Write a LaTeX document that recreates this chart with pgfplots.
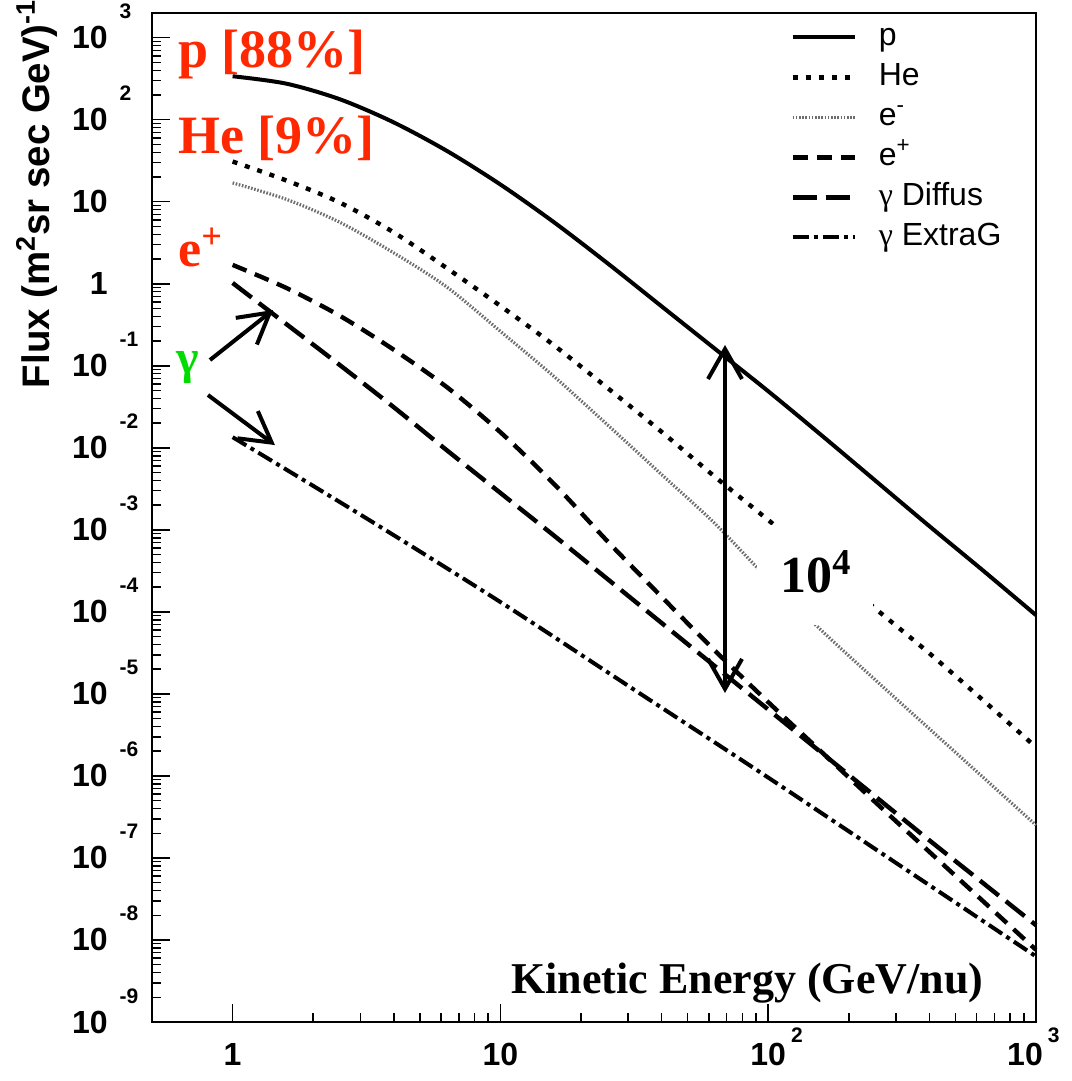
\documentclass[border=0pt]{standalone}
\usepackage{pgfplots}
\pgfplotsset{compat=1.18}
\usepackage{fontspec}
\setmainfont{Liberation Serif}
\setsansfont{Liberation Sans}
\usetikzlibrary{arrows.meta}
\definecolor{lblred}{RGB}{255,40,0}
\definecolor{lblgreen}{RGB}{0,220,0}
\definecolor{egray}{RGB}{110,110,110}
\newcommand{\yl}[2]{\makebox[0pt][r]{#1}\makebox[18pt][l]{\hspace{6pt}\raisebox{15pt}[0pt][0pt]{\fontsize{10.5}{10.5}\selectfont #2}}}
\newcommand{\xl}[3][0pt]{\makebox[0pt]{\kern-#1 #2\kern#1}\makebox[0pt][l]{\hspace{\dimexpr11.4pt-#1\relax}\raisebox{11.5pt}[0pt][0pt]{\fontsize{10.5}{10.5}\selectfont #3}}}
\begin{document}
\begin{tikzpicture}
\begin{axis}[
  xmode=log, ymode=log,
  scale only axis, width=442pt, height=504.5pt,
  xmin=0.5, xmax=1000, ymin=1e-9, ymax=2000,
  xtickten={0,1,2,3}, ytickten={-9,...,3},
  xticklabels={\xl{1}{},\xl{10}{},\xl{10}{2},\xl[5.5pt]{10}{3}},
  yticklabels={\yl{10}{-9},\yl{10}{-8},\yl{10}{-7},\yl{10}{-6},\yl{10}{-5},\yl{10}{-4},\yl{10}{-3},\yl{10}{-2},\yl{10}{-1},\yl{1}{},\yl{10}{},\yl{10}{2},\yl{10}{3}},
  tick align=inside, tick pos=left,
  major tick length=9pt, minor tick length=4.5pt,
  tick style={black, line width=0.75pt},
  axis line style={line width=1pt},
  tick label style={font=\sffamily\bfseries\fontsize{16}{16}\selectfont, inner sep=0pt},
  yticklabel style={anchor=east, xshift=-4pt},
  xticklabel style={anchor=north, yshift=-10.5pt},
  clip=false,
  legend image code/.code={\draw[#1] (0pt,0pt) -- (31pt,0pt);},
  legend cell align=left,
  legend style={draw=none, fill=none, at={(0.7217,0.996)}, anchor=north west,
    font=\sffamily\fontsize{16}{16}\selectfont, inner sep=0pt, row sep=0pt, column sep=9pt,
    nodes={inner sep=2pt, text height=12pt, text depth=4pt}},
]
\addplot[black, line width=2pt, smooth] coordinates {
(1,338.8) (1.585,275.4) (2.512,177.8) (3.981,93.33) (6.310,41.69) (10,16.22) (15.85,5.623) (25.12,1.778) (39.81,0.5370) (63.10,0.1622) (100,0.04898) (158.5,0.01413) (251.2,0.003981) (398.1,0.001122) (631.0,3.236e-4) (1000,9.120e-5)};
\addlegendentry{p}
\addplot[black, line width=2.2pt, dash pattern=on 2.5pt off 4pt, smooth] coordinates {
(1,30.90) (1.585,18.20) (2.512,9.772) (3.981,4.266) (6.310,1.549) (10,0.5370) (15.85,0.1778) (25.12,0.05370) (39.81,0.01585) (63.10,4.467e-3) (100,1.318e-3) (158.5,3.802e-4) (251.2,1.096e-4) (398.1,3.162e-5) (631.0,8.511e-6) (1000,2.239e-6)};
\addlegendentry{He}
\addplot[egray, line width=1.6pt, dash pattern=on 0.8pt off 0.8pt, smooth] coordinates {
(1,16.98) (1.585,10.72) (2.512,5.623) (3.981,2.399) (6.310,0.9120) (10,0.2630) (15.85,0.07413) (25.12,0.01905) (39.81,4.786e-3) (63.10,1.202e-3) (100,2.512e-4) (158.5,5.888e-5) (251.2,1.479e-5) (398.1,3.802e-6) (631.0,9.772e-7) (1000,2.512e-7)};
\addlegendentry{e\textsuperscript{-}}
\addplot[black, line width=2.2pt, dash pattern=on 7.5pt off 4.5pt, smooth] coordinates {
(1,1.698) (1.585,0.8913) (2.512,0.4074) (3.981,0.1585) (6.310,0.05495) (10,0.01549) (15.85,3.631e-3) (25.12,7.244e-4) (39.81,1.549e-4) (63.10,3.388e-5) (100,7.943e-6) (158.5,1.950e-6) (251.2,4.786e-7) (398.1,1.202e-7) (631.0,3.020e-8) (1000,7.586e-9)};
\addlegendentry{e\textsuperscript{+}}
\addplot[black, line width=2.2pt, dash pattern=on 12pt off 4.5pt, smooth] coordinates {
(1,1.023) (1.585,0.3236) (2.512,0.1023) (3.981,0.03162) (6.310,9.333e-3) (10,2.818e-3) (15.85,8.511e-4) (25.12,2.512e-4) (39.81,7.413e-5) (63.10,2.188e-5) (100,6.457e-6) (158.5,1.905e-6) (251.2,5.623e-7) (398.1,1.660e-7) (631.0,5.012e-8) (1000,1.514e-8)};
\addlegendentry{{\rmfamily γ} Diffus}
\addplot[black, line width=2pt, dash pattern=on 8pt off 2.5pt on 2pt off 2.5pt, smooth] coordinates {
(1,0.01349) (3.162,1.380e-3) (10,1.318e-4) (31.62,1.122e-5) (100,9.550e-7) (316.2,7.762e-8) (1000,6.310e-9)};
\addlegendentry{{\rmfamily γ} ExtraG}
\fill[white] (rel axis cs:0.6844,0.3935) rectangle (rel axis cs:0.8156,0.4926);
\node[anchor=base west, inner sep=0pt, font=\bfseries\fontsize{26}{26}\selectfont] at (rel axis cs:0.7104,0.4252) {10\textsuperscript{4}};
\draw[line width=2pt, {Straight Barb[length=15pt,width=17pt]}-{Straight Barb[length=15pt,width=17pt]}] (rel axis cs:0.6482,0.6710) -- (rel axis cs:0.6482,0.3261);
\draw[line width=2pt, -{Straight Barb[length=15pt,width=17pt]}] (rel axis cs:0.0656,0.6561) -- (rel axis cs:0.1369,0.7056);
\draw[line width=2pt, -{Straight Barb[length=15pt,width=17pt]}] (rel axis cs:0.0633,0.6214) -- (rel axis cs:0.1391,0.5718);
\node[anchor=base west, inner sep=0pt, text=lblred, font=\bfseries\fontsize{27}{27}\selectfont] at (rel axis cs:0.0294,0.9455) {p [88\%]};
\node[anchor=base west, inner sep=0pt, text=lblred, font=\bfseries\fontsize{27}{27}\selectfont] at (rel axis cs:0.0294,0.8612) {He [9\%]};
\node[anchor=base west, inner sep=0pt, text=lblred, font=\bfseries\fontsize{26}{26}\selectfont] at (rel axis cs:0.0294,0.7483) {e\textsuperscript{+}};
\node[anchor=center, inner sep=0pt, text=lblgreen, font=\bfseries\fontsize{24}{24}\selectfont] at (rel axis cs:0.0407,0.6482) {γ};
\node[anchor=base west, inner sep=0pt, font=\bfseries\fontsize{22}{22}\selectfont] at (rel axis cs:0.4061,0.0287) {Kinetic Energy (GeV/nu)};
\node[rotate=90, anchor=base east, inner sep=0pt, font=\sffamily\bfseries\fontsize{19.2}{19.2}\selectfont] at (rel axis cs:-0.1154,1.0139) {Flux (m\textsuperscript{2}sr sec GeV)\textsuperscript{-1}};
\coordinate (SW) at (rel axis cs:0,0);
\coordinate (NE) at (rel axis cs:1,1);
\end{axis}
\pgfresetboundingbox
\path ([shift={(-76pt,-29.5pt)}]SW) rectangle ([shift={(17.5pt,6.5pt)}]NE);
\end{tikzpicture}
\end{document}
